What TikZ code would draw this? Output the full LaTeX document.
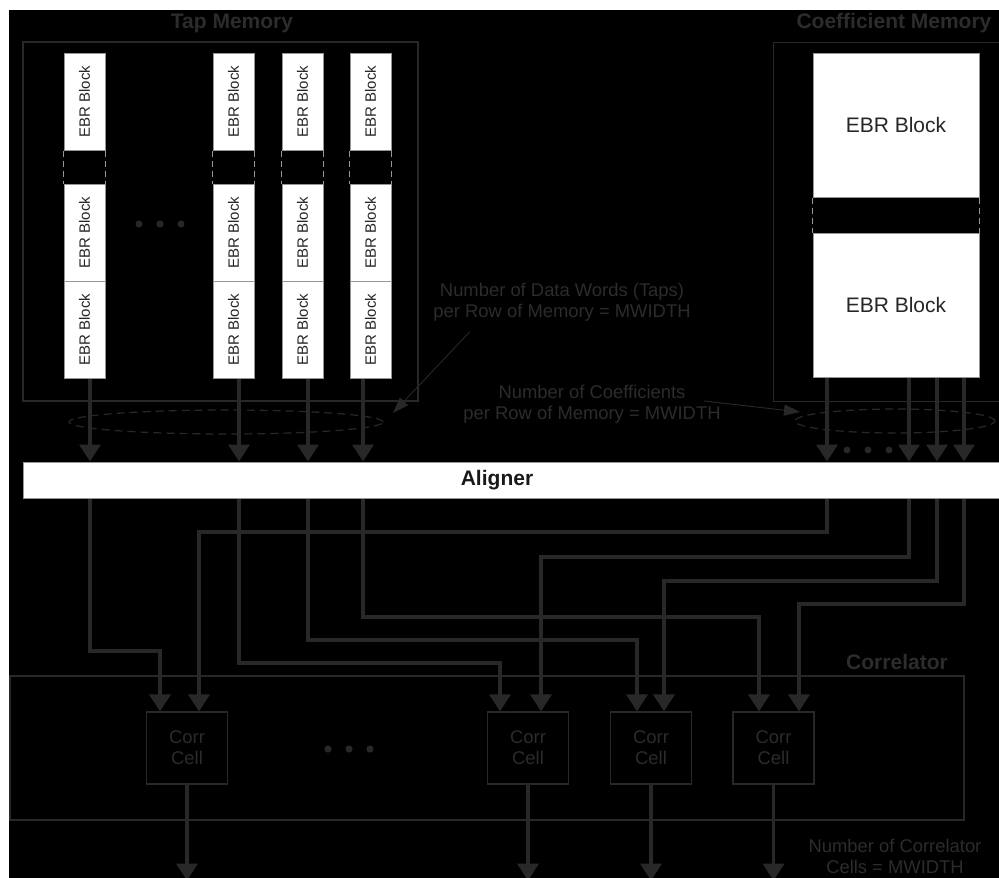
\documentclass[tikz,border=0pt]{standalone}
\usepackage{fontspec}
\setmainfont{Liberation Sans}
\usetikzlibrary{positioning, calc, arrows.meta}

\definecolor{wire}{RGB}{40,40,40}
\definecolor{ink}{RGB}{44,44,44}
\definecolor{rim}{RGB}{150,150,150}

\begin{document}
\begin{tikzpicture}[x=1pt, y=-1pt,
    bus/.style={wire, line width=3.5pt, -{Triangle[width=21pt,length=17pt]}},
    note/.style={wire, line width=0.9pt, -{Triangle[width=11pt,length=16pt]}},
    frame/.style={draw=wire, line width=1.2pt, inner sep=0pt},
    ebr/.style={draw=rim, fill=white, line width=1pt, inner sep=0pt, text=black!85,
        minimum width=41pt, minimum height=97pt, font=\fontsize{15}{17}\selectfont},
    bigebr/.style={ebr, minimum width=166pt, minimum height=144pt, font=\fontsize{21}{24}\selectfont},
    corr/.style={draw=wire, line width=1.2pt, inner sep=0pt, text=ink, align=center,
        minimum width=81pt, minimum height=72pt, font=\fontsize{18.4}{21}\selectfont},
    title/.style={text=ink, font=\fontsize{21}{24}\selectfont\bfseries},
    hint/.style={text=ink, align=center, font=\fontsize{18.4}{21}\selectfont},
    gap/.style={rim, line width=0.8pt, dash pattern=on 6pt off 4pt},
    ring/.style={wire, line width=1.2pt, dash pattern=on 8pt off 5pt},
    dot/.style={fill=wire}]

    % Canvas
    \useasboundingbox (0,0) rectangle (999,878);
    \clip (0,0) rectangle (999,878);
    \fill[white] (0,0) rectangle (999,878);
    \fill[black] (9,10) rectangle (999,878);

    % Tap memory
    \node[frame, minimum width=395pt, minimum height=359pt] (tapMem) at (220.5,221.5) {};
    \node[title] (tapTitle) at (232,23) {Tap Memory};
    \foreach \i/\x/\ax in {1/84.5/90, 2/233.5/239, 3/302.5/308, 4/370.5/363} {
        \node[ebr] (top\i) at (\x,101.5) {\rotatebox{90}{EBR Block}};
        \node[ebr] (mid\i) at (\x,232.5) {\rotatebox{90}{EBR Block}};
        \node[ebr] (bot\i) at (\x,329.5) {\rotatebox{90}{EBR Block}};
        \draw[gap] (top\i.south west) -- (mid\i.north west);
        \draw[gap] (top\i.south east) -- (mid\i.north east);
        \coordinate (t\i) at (bot\i.south -| \ax,0);
    }
    \foreach \x in {139,160,181} \fill[dot] (\x,224) circle (3.6pt);

    % Coefficient memory
    \node[frame, minimum width=240pt, minimum height=359pt, anchor=north west] (coefMem) at (773,42) {};
    \node[title] (coefTitle) at (894,23) {Coefficient Memory};
    \node[bigebr] (ctop) at (896,125) {EBR Block};
    \node[bigebr] (cbot) at (896,305) {EBR Block};
    \draw[gap] (ctop.south west) -- (cbot.north west);
    \draw[gap] (ctop.south east) -- (cbot.north east);
    \foreach \j/\ax in {1/827, 2/909, 3/937, 4/964}
        \coordinate (k\j) at (cbot.south -| \ax,0);
    \foreach \x in {847,868,889} \fill[dot] (\x,450) circle (3.4pt);

    % Aligner
    \node[draw=rim, fill=white, line width=1pt, minimum width=990pt, minimum height=36pt,
        inner sep=0pt, anchor=west] (al) at (23,480) {};
    \node[title, text=black!90] (alText) at (497,480) {Aligner};

    % Words per row
    \draw[ring] (226,422) ellipse [x radius=157pt, y radius=12pt];
    \draw[ring] (895,421) ellipse [x radius=100pt, y radius=12pt];
    \node[hint] (tapNote) at (562,302) {Number of Data Words (Taps)\\per Row of Memory = MWIDTH};
    \node[hint] (coefNote) at (592,404) {Number of Coefficients\\per Row of Memory = MWIDTH};
    \coordinate (tapRing) at (393,413);
    \coordinate (coefRing) at (800,412);
    \draw[note] ([shift={(40,7)}]tapNote.south west) -- (tapRing);
    \draw[note] ([shift={(-20,-3)}]coefNote.east) -- (coefRing);

    % Memory to aligner
    \foreach \i in {1,...,4} {
        \draw[bus] (t\i) -- (t\i |- al.north);
        \draw[bus] (k\i) -- (k\i |- al.north);
    }

    % Correlator
    \node[frame, minimum width=954pt, minimum height=144pt] (corrBox) at (487,748) {};
    \node[title] (corrTitle) at (897,662) {Correlator};
    \foreach \i/\x in {1/187, 2/528, 3/651, 4/773.5}
        \node[corr] (cc\i) at (\x,748) {Corr\\Cell};
    \foreach \x in {328,349,370} \fill[dot] (\x,749) circle (3.6pt);

    % Aligner to correlator cells
    \foreach \i/\lt/\xt/\lk/\xk in {1/651/160/532/199, 2/663/500/557/541, 3/640/637/581/664, 4/617/759/604/799} {
        \draw[bus] (t\i |- al.south) -- (t\i |- 0,\lt) -| (cc\i.north -| \xt,0);
        \draw[bus] (k\i |- al.south) -- (k\i |- 0,\lk) -| (cc\i.north -| \xk,0);
        \draw[bus] (cc\i.south) -- ++(0,96);
    }
    \node[hint] (cellNote) at (895,856) {Number of Correlator\\Cells = MWIDTH};
\end{tikzpicture}
\end{document}
